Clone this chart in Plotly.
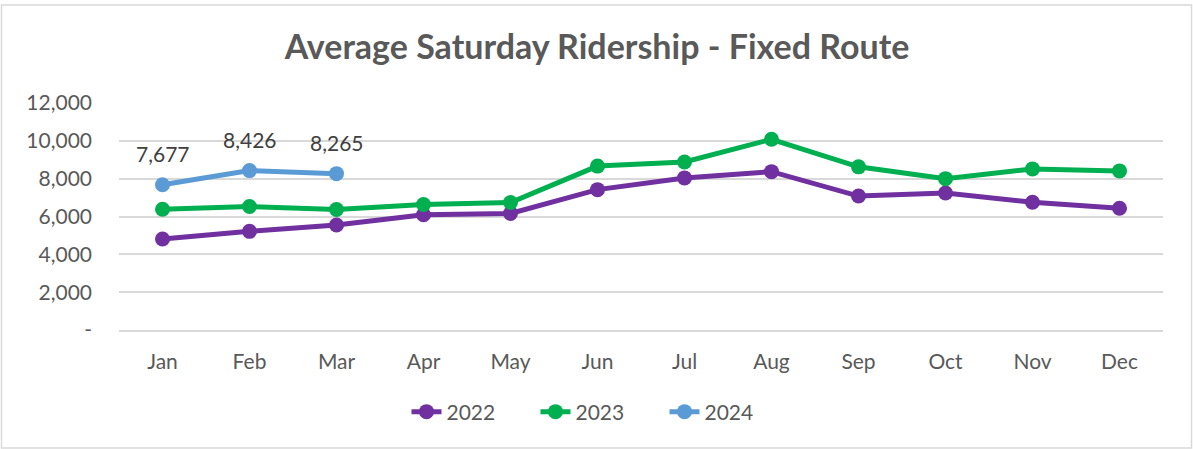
import plotly.graph_objects as go

months = ["Jan", "Feb", "Mar", "Apr", "May", "Jun", "Jul", "Aug", "Sep", "Oct", "Nov", "Dec"]
r2022 = [4810, 5215, 5550, 6090, 6160, 7420, 8040, 8370, 7080, 7240, 6755, 6440]
r2023 = [6380, 6525, 6370, 6635, 6740, 8665, 8885, 10080, 8625, 8000, 8515, 8410]
r2024 = [7677, 8426, 8265]
y_ticks = [0, 2000, 4000, 6000, 8000, 10000, 12000]
y_ticktext = ["-", "2,000", "4,000", "6,000", "8,000", "10,000", "12,000"]

FONT = "Lato"
GRAY = "#595959"
W, H = 1193, 449
L, R, T, B = 119, 30, 103, 119
PW, PH = W - L - R, H - T - B

def px_x(x):
    return (x - L) / PW

def px_y(y):
    return (H - B - y) / PH

fig = go.Figure()
series = [("2022", r2022, "#7030A0"), ("2023", r2023, "#00B050"), ("2024", r2024, "#5B9BD5")]
for name, vals, col in series:
    fig.add_trace(go.Scatter(
        x=months[:len(vals)], y=vals, name=name, mode="lines+markers",
        line=dict(color=col, width=5), marker=dict(color=col, size=15),
    ))

for m, v in zip(months, r2024):
    fig.add_annotation(x=m, y=v, text=f"{v:,}", showarrow=False, yshift=31,
                       font=dict(family=FONT, size=21, color="#404040"))

fig.add_shape(type="rect", xref="paper", yref="paper",
              x0=px_x(1.5), x1=px_x(1191.5), y0=px_y(448), y1=px_y(5),
              line=dict(color="#D9D9D9", width=1.5), layer="below")

fig.update_layout(
    width=W, height=H,
    margin=dict(l=L, r=R, t=T, b=B),
    paper_bgcolor="white", plot_bgcolor="white",
    title=dict(text="<b>Average Saturday Ridership - Fixed Route</b>", x=597 / W, xanchor="center",
               y=1 - 47 / H, yanchor="middle", yref="container",
               font=dict(family=FONT, size=34, color=GRAY)),
    font=dict(family=FONT, color=GRAY),
    xaxis=dict(type="category", categoryorder="array", categoryarray=months,
               range=[-0.5, 11.5], showgrid=False, showline=True, linecolor="#D9D9D9", linewidth=1.5,
               tickfont=dict(family=FONT, size=21, color=GRAY), ticklabelstandoff=12, zeroline=False,
               automargin=False),
    yaxis=dict(range=[0, 12000], tickvals=y_ticks, ticktext=y_ticktext, showgrid=True,
               gridcolor="#D9D9D9", gridwidth=1.5, zeroline=False, showline=False,
               tickfont=dict(family=FONT, size=21, color=GRAY), ticklabelstandoff=26, automargin=False),
    legend=dict(orientation="h", x=px_x(600), xanchor="center", y=px_y(412), yanchor="middle",
                font=dict(family=FONT, size=21, color=GRAY), tracegroupgap=0,
                entrywidth=84, entrywidthmode="pixels"),
    showlegend=True,
)

fig.write_html("out.html", config={"displayModeBar": False},
               post_script="document.body.style.margin='0';")
